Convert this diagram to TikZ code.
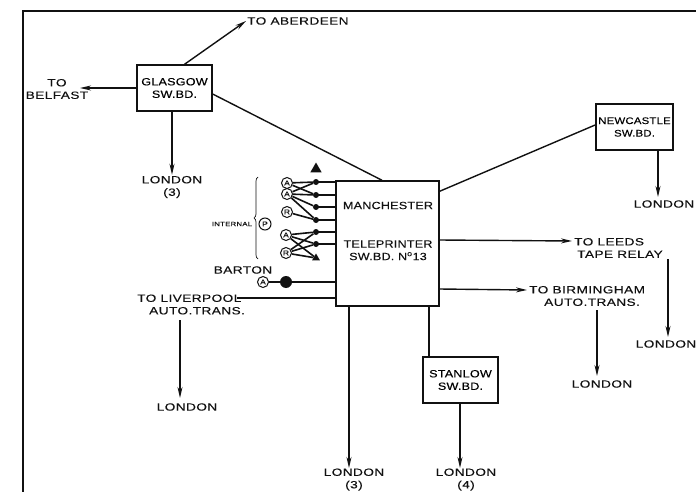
\documentclass[tikz,border=0pt]{standalone}
\usepackage{fontspec}
\setmainfont{Liberation Sans}
\newfontfamily\tagfont[FakeStretch=1.3, LetterSpace=4, FakeBold=0.2]{Liberation Sans}
\newfontfamily\boxfont[FakeStretch=1.2, LetterSpace=2, FakeBold=0.2]{Liberation Sans}
\usetikzlibrary{positioning, arrows.meta, calc, shapes.geometric, decorations.pathreplacing}
\definecolor{inkblack}{HTML}{111111}
\tikzset{
  swbox/.style={draw=inkblack, line width=1.5pt, minimum width=#1, minimum height=46pt, inner sep=0pt,
                align=center, font=\boxfont\fontsize{10.5}{12.5}\selectfont},
  tag/.style={inner sep=1pt, align=center, text=inkblack, font=\tagfont\fontsize{10.5}{12.5}\selectfont},
  feed/.style={draw=inkblack, line width=1.4pt, -{Stealth[length=11pt,width=5pt]}},
  wire/.style={draw=inkblack, line width=1.4pt},
  term/.style={circle, draw=inkblack, line width=1pt, fill=white, minimum size=11pt, inner sep=0pt,
               text=inkblack, font=\boxfont\fontsize{7}{7}\selectfont},
  tap/.style={circle, fill=inkblack, minimum size=6pt, inner sep=0pt},
}
\begin{document}
\begin{tikzpicture}[x=1pt, y=-1pt]
    \useasboundingbox (0,0) rectangle (696,492);
    % frame
    \coordinate (framebl) at (23,492);
    \coordinate (frametl) at (23,11);
    \coordinate (frametr) at (696,11);
    \draw[wire, line width=1.1pt] (framebl) -- (frametl) -- (frametr);

    % switchboards
    \node[swbox=75pt] (glasgow) at (174.5,88) {GLASGOW\\SW.BD.};
    \node[swbox=77pt, font=\boxfont\fontsize{9.5}{12.5}\selectfont] (newcastle) at (634.5,127) {NEWCASTLE\\SW.BD.};
    \node[swbox=75pt] (stanlow) at (460.5,380) {STANLOW\\SW.BD.};
    \node[swbox=103pt, minimum height=125pt] (manchester) at (387.5,243.5) {};
    \node[tag, font=\boxfont\fontsize{10.5}{12.5}\selectfont] (mantext) at (388,231) {MANCHESTER\\[26pt]TELEPRINTER\\SW.BD. N\textsuperscript{o}13};

    % labels
    \node[tag, anchor=west] (aberdeen) at (246,21) {TO ABERDEEN};
    \node[tag] (belfast) at (57,89) {TO\\BELFAST};
    \node[tag] (londona) at (172,187) {LONDON\\(3)};
    \node[tag] (londonb) at (664,204) {LONDON};
    \node[tag, anchor=west, align=left] (leeds) at (573,248) {TO LEEDS\\\hspace*{3pt}TAPE RELAY};
    \node[tag] (londonc) at (666,344) {LONDON};
    \node[tag, anchor=west, align=left] (birmingham) at (528,296) {TO BIRMINGHAM\\\hspace*{15pt}AUTO.TRANS.};
    \node[tag] (londond) at (602,384) {LONDON};
    \node[tag, anchor=west, align=left] (liverpool) at (136,304.5) {TO LIVERPOOL\\\hspace*{12pt}AUTO.TRANS.};
    \node[tag] (londone) at (187,407) {LONDON};
    \node[tag] (londonf) at (354,479.5) {LONDON\\(3)};
    \node[tag] (londong) at (466,479.5) {LONDON\\(4)};
    \node[tag] (barton) at (243,270) {BARTON};
    \node[tag, font=\tagfont\fontsize{6}{6}\selectfont] (internal) at (232,224) {INTERNAL};

    % free ends
    \coordinate (belfastend) at (80,88);
    \coordinate (glasgowout) at (172,111);
    \coordinate (newcastleout) at (658,150);
    \coordinate (londonbend) at (658,197);
    \coordinate (leedsout) at (668,259);
    \coordinate (londoncend) at (668,337);
    \coordinate (birminghamout) at (597,310);
    \coordinate (londondend) at (597,376);
    \coordinate (liverpoolout) at (180,320);
    \coordinate (londoneend) at (180,398);
    \coordinate (manout) at (349,306);
    \coordinate (londonfend) at (349,468);
    \coordinate (stanlowout) at (460,403);
    \coordinate (londongend) at (460,468);
    \coordinate (leedsend) at (572,241);
    \coordinate (birminghamend) at (527,290);
    \coordinate (manleeds) at (439,240);
    \coordinate (manbirm) at (439,289);
    \coordinate (manliver) at (336,298);
    \coordinate (liverend) at (237,298);
    \coordinate (manstan) at (429,306);

    % trunks
    \draw[feed] (glasgow.67.5) -- (aberdeen.west);
    \draw[feed] (glasgow.west) -- (belfastend);
    \draw[feed] (glasgowout) -- (glasgowout |- londona.north);
    \draw[wire] (glasgow.-9) -- (manchester.95);
    \draw[wire] (newcastle.177) -- (manchester.45);
    \draw[feed] (newcastleout) -- (londonbend);
    \draw[feed] (manleeds) -- (leedsend);
    \draw[feed] (leedsout) -- (londoncend);
    \draw[feed] (manbirm) -- (birminghamend);
    \draw[feed] (birminghamout) -- (londondend);
    \draw[wire] (manliver) -- (liverend);
    \draw[feed] (liverpoolout) -- (londoneend);
    \draw[feed] (manout) -- (londonfend);
    \draw[wire] (manstan) -- (manstan |- stanlow.north);
    \draw[feed] (stanlowout) -- (londongend);

    % internal lines
    \node[tap] (da) at (316,182) {};
    \node[tap] (db) at (316,195) {};
    \node[tap] (dc) at (316,207) {};
    \node[tap] (dd) at (316,220) {};
    \node[tap] (de) at (316,232) {};
    \node[tap] (df) at (316,244) {};
    \node[tap, regular polygon, regular polygon sides=3, minimum size=9pt] (dg) at (316,258) {};
    \node[tap, regular polygon, regular polygon sides=3, minimum size=13pt] (dh) at (316,169) {};
    \node[tap, minimum size=12pt] (di) at (286,282) {};
    \node[term] (ta) at (287,183) {A};
    \node[term] (tb) at (287,194) {A};
    \node[term] (tc) at (287,212) {R};
    \node[term] (td) at (286,235) {A};
    \node[term] (te) at (286,253) {R};
    \node[term] (tf) at (263,282) {A};
    \node[term, minimum size=12pt] (tp) at (265,224) {P};
    \foreach \a/\b in {ta/da, ta/db, tb/da, tb/db, tb/dc, tb/dd, tc/dd, td/de, td/df, td/dg, te/de, te/df, te/dg}
      \draw[wire, line width=1.6pt] (\a) -- (\b);
    \foreach \d in {da, db, dc, dd, de, df}
      \draw[wire] (\d.center) -- (\d.center -| manchester.west);
    \draw[wire] (tf) -- (tf -| manchester.west);
    \coordinate (bracetop) at (258,177);
    \coordinate (bracebot) at (258,259);
    \draw[inkblack, line width=.7pt, decorate, decoration={brace, amplitude=4pt}] (bracebot) -- (bracetop);
  \end{tikzpicture}
\end{document}
